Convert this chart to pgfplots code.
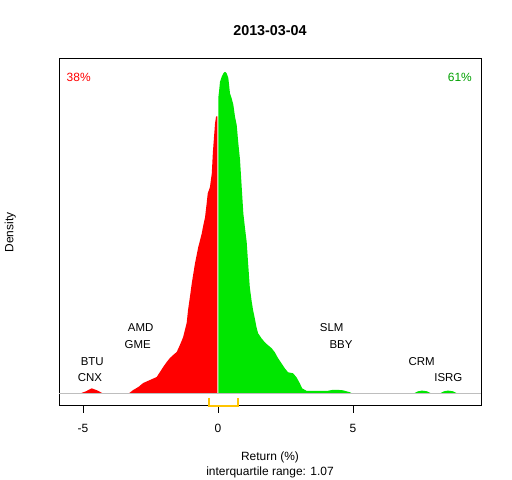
\documentclass[border=0pt]{standalone}
\usepackage{fontspec}
\setmainfont{Liberation Sans}
\usepackage{pgfplots}
\pgfplotsset{compat=1.18}
\definecolor{rgreen}{HTML}{00E600}
\definecolor{pctgreen}{HTML}{00A000}
\definecolor{pctred}{HTML}{FF0000}
\definecolor{iqr}{HTML}{FFC400}
\definecolor{base}{HTML}{BEBEBE}
\begin{document}
\begin{tikzpicture}[x=1bp,y=1bp]
\path[use as bounding box] (0,0) rectangle (512,480);
\begin{axis}[
  at={(59bp,74bp)}, anchor=south west, scale only axis,
  width=422bp, height=347bp,
  xmin=-5.889, xmax=9.741, ymin=-0.0254, ymax=0.6686,
  axis line style={line width=1bp},
  xtick={-5,0,5}, ytick=\empty, xtick pos=bottom,
  tick align=outside, major tick length=7bp,
  tick style={black, line width=1bp},
  /pgf/number format/assume math mode=true,
  xticklabel style={font=\fontsize{12}{12}\selectfont, anchor=base, yshift=-19.5bp},
  clip=false,
]
% negative side
\addplot[fill=red, draw=none] coordinates {
(-5.09,0) (-4.89,0.004) (-4.68,0.010) (-4.48,0.006) (-4.27,0)
};
\addplot[fill=red, draw=none] coordinates {
(-3.30,0) (-3.14,0.0066) (-2.95,0.0126) (-2.77,0.0206) (-2.52,0.0266)
(-2.27,0.0326) (-2.15,0.0426) (-2.03,0.0526) (-1.90,0.0626) (-1.78,0.0706)
(-1.66,0.0766) (-1.53,0.0826) (-1.41,0.0966) (-1.29,0.1126) (-1.16,0.1406)
(-1.11,0.1666) (-1.04,0.1926) (-0.97,0.2206) (-0.85,0.2606) (-0.73,0.2926)
(-0.60,0.320) (-0.56,0.332) (-0.48,0.352) (-0.42,0.380) (-0.38,0.400)
(-0.30,0.412) (-0.23,0.440) (-0.19,0.482) (-0.11,0.540) (-0.07,0.554)
(-0.025,0.554) (-0.025,0)
};
% positive side
\addplot[fill=rgreen, draw=none] coordinates {
(0.015,0) (0.015,0.593) (0.037,0.603) (0.074,0.623) (0.136,0.633) (0.198,0.640)
(0.259,0.643) (0.321,0.640) (0.383,0.630) (0.444,0.600) (0.506,0.590)
(0.568,0.577) (0.630,0.553) (0.691,0.537) (0.753,0.500) (0.815,0.467)
(0.877,0.413) (0.938,0.360) (1.000,0.330) (1.062,0.303) (1.115,0.260)
(1.178,0.212) (1.241,0.186) (1.300,0.166) (1.363,0.150) (1.426,0.132)
(1.485,0.120) (1.611,0.110) (1.733,0.102) (1.856,0.096) (1.989,0.090)
(2.104,0.082) (2.226,0.070) (2.352,0.060) (2.474,0.050) (2.596,0.042)
(2.781,0.040) (2.907,0.032) (3.030,0.020) (3.115,0.010) (3.278,0.005)
(4.070,0.005) (4.250,0.007) (4.400,0.007) (4.630,0.006) (4.890,0.002)
(4.960,0)
};
\addplot[fill=rgreen, draw=none] coordinates {
(7.26,0) (7.41,0.004) (7.56,0.0054) (7.74,0.004) (7.89,0)
};
\addplot[fill=rgreen, draw=none] coordinates {
(8.22,0) (8.37,0.004) (8.52,0.0054) (8.70,0.004) (8.85,0)
};
% baseline
\addplot[color=base, line width=1bp] coordinates {(-5.889,0) (9.741,0)};
% interquartile bracket
\addplot[color=iqr, line width=2bp] coordinates {(-0.32,-0.0094) (-0.32,-0.0254) (0.75,-0.0254) (0.75,-0.0094)};
% annotations
\begin{scope}[every node/.style={font=\fontsize{11.5}{11.5}\selectfont, anchor=base, inner sep=0pt}]
\node at (axis cs:-2.863,0.123) {AMD};
\node at (axis cs:-2.974,0.0898) {GME};
\node at (axis cs:-4.656,0.055) {BTU};
\node at (axis cs:-4.741,0.023) {CNX};
\node at (axis cs:4.211,0.123) {SLM};
\node at (axis cs:4.556,0.0898) {BBY};
\node at (axis cs:7.544,0.055) {CRM};
\node at (axis cs:8.530,0.023) {ISRG};
\end{scope}
\node[font=\fontsize{12}{12}\selectfont, anchor=base west, inner sep=0pt, text=pctred] at (axis cs:-5.611,0.6226) {38\%};
\node[font=\fontsize{12}{12}\selectfont, anchor=base east, inner sep=0pt, text=pctgreen] at (axis cs:9.407,0.6226) {61\%};
\end{axis}
\node[font=\bfseries\fontsize{14.4}{14.4}\selectfont, anchor=base, inner sep=0pt] at (270,444.8) {2013-03-04};
\node[font=\fontsize{12}{12}\selectfont, anchor=base, inner sep=0pt] at (270,19.0) {Return (\%)};
\node[font=\fontsize{12}{12}\selectfont, anchor=base, inner sep=0pt] at (270,4.0) {interquartile range: 1.07};
\node[font=\fontsize{12}{12}\selectfont, anchor=base, inner sep=0pt, rotate=90] at (13.3,247.5) {Density};
\end{tikzpicture}
\end{document}
